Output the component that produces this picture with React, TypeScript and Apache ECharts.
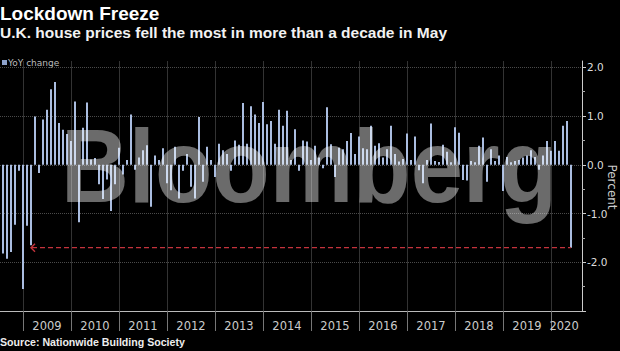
import React, { useEffect, useRef } from 'react';
import * as echarts from 'echarts';

const titleText = 'Lockdown Freeze';
const subtitleText = 'U.K. house prices fell the most in more than a decade in May';
const legendLabel = 'YoY change';
const sourceText = 'Source: Nationwide Building Society';
const yAxisName = 'Percent';
const watermarkText = 'Bloomberg';

// Month index: 1 = Jan 2008. First bar = Jul 2008.
const firstMonthIndex = 7;
const values2008 = [-1.82, -1.93, -1.79, -1.23, -0.12, -2.55];
const values2009 = [-1.25, -1.65, 0.99, -0.17, 0.93, 1.13, 1.55, 1.7, 0.86, 0.72, 0.63, 0.49];
const values2010 = [1.3, -1.18, 0.76, 1.28, 0.11, 0.14, -0.4, -0.7, -0.3, -0.95, -0.4, 0.35];
const values2011 = [-0.2, 0.1, 1.03, -0.1, 0.15, 0.3, 0.4, -0.86, 0.19, 0.1, 0.34, -0.38];
const values2012 = [-0.52, 0.37, -0.69, -0.12, 0.22, -0.45, -0.69, 0.98, -0.35, 0.37, 0.1, -0.25];
const values2013 = [0.43, 0.3, 0.22, -0.12, 0.5, 0.41, 1.27, 0.43, 1.2, 1.03, 0.86, 1.29];
const values2014 = [0.83, 0.9, 0.43, 1.13, 0.8, 1.11, 0.1, 0.73, -0.12, 0.5, 0.48, 0.1];
const values2015 = [0.39, 0.15, -0.07, 1.18, 0.42, -0.25, 0.35, 0.32, 0.49, 0.65, 0.22, 0.58];
const values2016 = [0.34, 0.32, 0.8, 0.39, 0.44, 0.15, 0.32, 0.8, 0.22, 0.07, 0.12, 0.64];
const values2017 = [0.1, 0.58, -0.11, -0.38, 0.1, 0.85, 0.08, 0.06, 0.41, 0.27, 0.05, 0.77];
const values2018 = [0.66, -0.31, -0.32, 0.08, 0.05, 0.39, 0.56, -0.35, 0.32, 0.08, 0.19, -0.54];
const values2019 = [0.16, 0.05, 0.08, 0.1, 0.15, 0.19, 0.3, 0.16, -0.1, 0.19, 0.49, 0.29];
const values2020 = [0.49, 0.29, 0.8, 0.9, -1.7];

const yoyChange = [
  ...values2008, ...values2009, ...values2010, ...values2011, ...values2012, ...values2013,
  ...values2014, ...values2015, ...values2016, ...values2017, ...values2018, ...values2019, ...values2020,
];

const yearLabels = ['2009', '2010', '2011', '2012', '2013', '2014', '2015', '2016', '2017', '2018', '2019', '2020'];
const yTickValues = [-3, -2, -1, 0, 1, 2];
const yLabelValues = [-2, -1, 0, 1, 2];

// Annotation arrow (month indexes and level)
const arrowFromIndex = 14;
const arrowToIndex = 149;
const arrowLevel = -1.7;

const xMin = 6.25;
const xMax = 151.75;
const yMin = -3;
const yMax = 2.13;

const yearStarts = yearLabels.map((_, i) => 12 * (i + 1));
const yearLabelPos = yearStarts.map((s) => s + Math.min(6, (xMax - s) / 2 - 0.6));

const RED = '#c4333c';
const sansFont = '"DejaVu Sans", "Noto Sans", sans-serif';
const boldFont = '"Liberation Sans", Arial, sans-serif';

export default function App() {
  const ref = useRef<HTMLDivElement>(null);

  useEffect(() => {
    if (!ref.current) return;
    const chart = echarts.init(ref.current, undefined, { renderer: 'svg' });

    const barData = yoyChange.map((v, i) => [firstMonthIndex + i, v]);

    const option: any = {
      animation: false,
      backgroundColor: '#000000',
      grid: { left: 0, right: 38, top: 61, bottom: 40, containLabel: false },
      xAxis: {
        type: 'value',
        min: xMin,
        max: xMax,
        axisLine: { show: true, onZero: false, lineStyle: { color: '#bbbbbb', width: 1 } },
        axisTick: { show: true, customValues: yearStarts, length: 20, lineStyle: { color: '#777777' } },
        axisLabel: {
          customValues: yearLabelPos,
          formatter: (v: number) => {
            const i = yearStarts.findIndex((s) => v >= s && v < s + 12);
            return i >= 0 ? yearLabels[i] : '';
          },
          color: '#cccccc',
          fontSize: 11.5,
          fontFamily: sansFont,
          margin: 9,
        },
        splitLine: { show: true, lineStyle: { color: '#333333', width: 1 } },
      },
      yAxis: {
        type: 'value',
        position: 'right',
        min: yMin,
        max: yMax,
        axisLine: { show: true, onZero: false, lineStyle: { color: '#cccccc', width: 1 } },
        axisTick: { show: true, customValues: yTickValues, length: 4, lineStyle: { color: '#cccccc' } },
        minorTick: { show: true, splitNumber: 2, length: 3, lineStyle: { color: '#aaaaaa' } },
        axisLabel: {
          customValues: yLabelValues,
          formatter: (v: number) => v.toFixed(1),
          color: '#dddddd',
          fontSize: 10.5,
          fontFamily: sansFont,
          margin: 5,
        },
        splitLine: { show: true, lineStyle: { color: '#4a4a4a', type: 'dotted', width: 1 } },
      },
      series: [
        {
          type: 'bar',
          name: legendLabel,
          data: barData,
          barWidth: 2,
          itemStyle: { color: '#aabde0' },
          silent: true,
        },
        {
          type: 'custom',
          data: [[arrowFromIndex, arrowToIndex, arrowLevel]],
          encode: { x: [0, 1], y: 2 },
          silent: true,
          z: 5,
          renderItem: (params: any, api: any) => {
            const a = api.coord([api.value(0), api.value(2)]);
            const b = api.coord([api.value(1), api.value(2)]);
            return {
              type: 'group',
              children: [
                {
                  type: 'line',
                  shape: { x1: a[0] + 1, y1: a[1], x2: b[0], y2: b[1] },
                  style: { stroke: RED, lineWidth: 1.4, lineDash: [5, 3], fill: null },
                },
                {
                  type: 'polyline',
                  shape: { points: [[a[0] + 4, a[1] - 4], [a[0], a[1]], [a[0] + 4, a[1] + 4]] },
                  style: { stroke: RED, lineWidth: 1.4, fill: null },
                },
              ],
            };
          },
        },
      ],
      graphic: [
        {
          type: 'text',
          x: 0,
          y: 13.6,
          style: {
            text: titleText,
            fill: '#ffffff',
            font: `bold 19px ${boldFont}`,
            lineHeight: 15,
            align: 'left', textAlign: 'left',
            verticalAlign: 'middle', textVerticalAlign: 'middle',
          },
        },
        {
          type: 'text',
          x: 0,
          y: 32,
          style: {
            text: subtitleText,
            fill: '#f2f2f2',
            font: `bold 15.5px ${boldFont}`,
            lineHeight: 13,
            align: 'left', textAlign: 'left',
            verticalAlign: 'middle', textVerticalAlign: 'middle',
          },
        },
        {
          type: 'rect',
          shape: { x: 2, y: 60, width: 5, height: 5 },
          style: { fill: '#8ea3cc' },
        },
        {
          type: 'text',
          x: 8,
          y: 62.5,
          style: {
            text: legendLabel,
            fill: '#bbbbbb',
            font: `9px ${sansFont}`,
            align: 'left', textAlign: 'left',
            verticalAlign: 'middle', textVerticalAlign: 'middle',
          },
        },
        {
          type: 'text',
          x: 612,
          y: 187,
          rotation: -Math.PI / 2,
          style: {
            text: yAxisName,
            fill: '#cccccc',
            font: `12px ${sansFont}`,
            align: 'center', textAlign: 'center',
            verticalAlign: 'middle', textVerticalAlign: 'middle',
          },
        },
        {
          type: 'text',
          x: 0,
          y: 341.5,
          style: {
            text: sourceText,
            fill: '#eeeeee',
            font: `bold 10.6px ${boldFont}`,
            align: 'left', textAlign: 'left',
            verticalAlign: 'middle', textVerticalAlign: 'middle',
          },
        },
        {
          type: 'text',
          x: 309,
          y: 166,
          scaleY: 1.11,
          z: 50,
          silent: true,
          style: {
            text: watermarkText,
            fill: 'rgba(255,255,255,0.42)',
            font: `bold 94px ${boldFont}`,
            align: 'center', textAlign: 'center',
            verticalAlign: 'middle', textVerticalAlign: 'middle',
          },
        },
      ],
    };

    chart.setOption(option);
    return () => {
      chart.dispose();
    };
  }, []);

  return (
    <div
      ref={ref}
      style={{ position: 'fixed', left: 0, top: 0, width: 620, height: 351, background: '#000' }}
    />
  );
}
